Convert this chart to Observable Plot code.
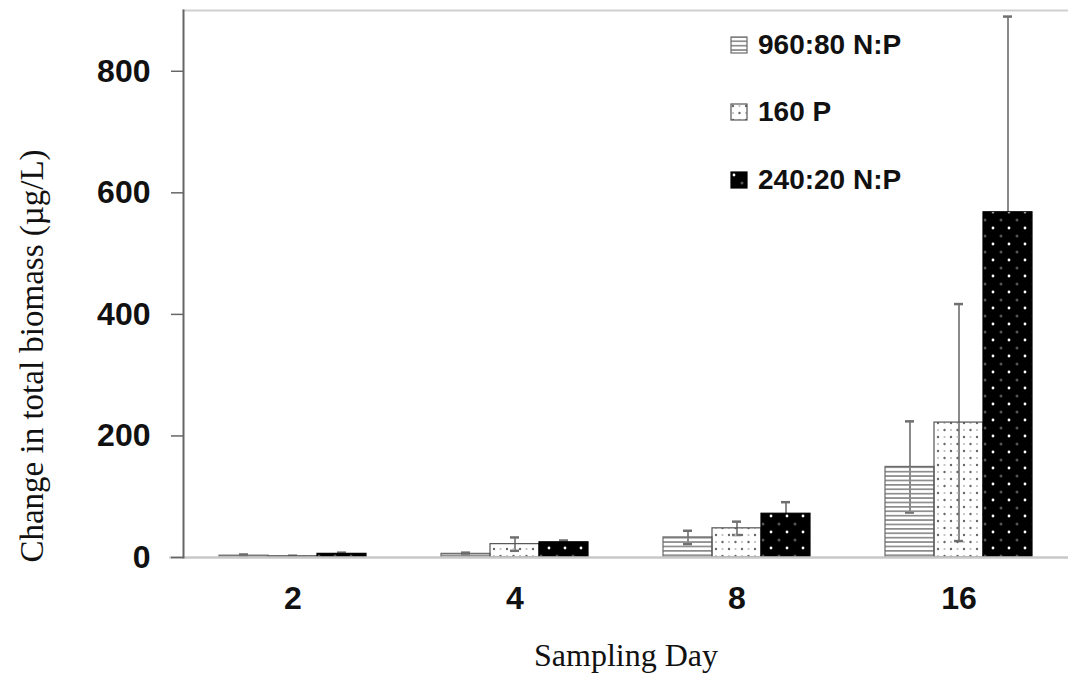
<!DOCTYPE html>
<html><head><meta charset="utf-8">
<script src="https://cdn.jsdelivr.net/npm/d3@7"></script>
<script src="https://cdn.jsdelivr.net/npm/@observablehq/plot@0.6"></script>
<style>
body{margin:0;background:#fff;}
#wrap{position:relative;width:1068px;height:685px;overflow:hidden;background:#fff;}
.legend{position:absolute;left:730px;top:0;font-family:"Liberation Sans",Arial,sans-serif;font-weight:bold;font-size:28px;color:#111;}
.legend .row{position:absolute;left:0;display:flex;align-items:center;white-space:nowrap;height:30px;}
.legend svg{margin-right:10px;}
</style></head>
<body><div id="wrap"></div>
<script>
// ---- data ----
const days = ["2", "4", "8", "16"];
const series = ["960:80 N:P", "160 P", "240:20 N:P"];
const mean960 = [3, 6, 33, 149];
const mean160 = [2, 22, 48, 222];
const mean240 = [6, 25, 72, 568];
const err960 = [2, 2, 11, 75];
const err160 = [1, 11, 11, 195];
const err240 = [2, 3, 19, 322];
const yTicks = [0, 200, 400, 600, 800];
const xLabel = "Sampling Day";
const yLabel = "Change in total biomass (\u00b5g/L)";

const meansBySeries = [mean960, mean160, mean240];
const errsBySeries = [err960, err160, err240];
const rows = [];
series.forEach((s, k) => days.forEach((d, i) => {
  const m = meansBySeries[k][i], e = errsBySeries[k][i];
  rows.push({series: s, day: d, value: m, lo: Math.max(0, m - e), hi: m + e});
}));

const fills = ["url(#pHatch)", "url(#pDots)", "url(#pBlack)"];
const strokes = ["#6a6a6a", "#555", "#000"];
const sans = "Liberation Sans, Arial, Helvetica, sans-serif";
const serif = "Liberation Serif, DejaVu Serif, serif";
const gap = -35; // space between the y axis and the first group of bars

const chart = Plot.plot({
  width: 1068,
  height: 685,
  marginLeft: 183,
  marginRight: 0,
  marginTop: 10,
  marginBottom: 128,
  style: {background: "#fff"},
  y: {domain: [0, 900]},
  x: {domain: series, padding: 0, axis: null},
  fx: {domain: days, paddingInner: 0.33, paddingOuter: 0.157},
  marks: [
    Plot.frame({anchor: "top", facet: "super", stroke: "#cfcfcf", strokeWidth: 2, insetLeft: gap, insetRight: gap}),
    Plot.ruleX(rows, {fx: "day", x: "series", y1: "lo", y2: "hi", stroke: "#8a8a8a", strokeWidth: 2}),
    Plot.tickY(rows, {fx: "day", x: "series", y: "hi", stroke: "#707070", strokeWidth: 2.5, insetLeft: 20, insetRight: 20}),
    Plot.tickY(rows.filter(r => r.lo > 0), {fx: "day", x: "series", y: "lo", stroke: "#707070", strokeWidth: 2.5, insetLeft: 20, insetRight: 20}),
    ...series.map((s, k) => Plot.barY(rows.filter(r => r.series === s), {
      fx: "day", x: "series", y: "value", fill: fills[k], stroke: strokes[k], strokeWidth: 1.2
    })),
    Plot.frame({anchor: "bottom", facet: "super", stroke: "#c8c8c8", strokeWidth: 2.5, insetLeft: gap - 13, insetRight: gap}),
    Plot.frame({anchor: "left", facet: "super", stroke: "#666", strokeWidth: 2, insetLeft: gap}),
    Plot.axisY({ticks: yTicks, tickSize: 12, tickPadding: 21, tickFormat: d => String(d), dx: gap,
      fontSize: 32, fontWeight: "bold", fontFamily: sans, label: null, stroke: "#666", strokeWidth: 1.5, color: "#111"}),
    Plot.axisFx({anchor: "bottom", tickSize: 0, tickPadding: 29, fontSize: 32, fontWeight: "bold",
      fontFamily: sans, label: null, color: "#111"}),
    Plot.text([xLabel], {facet: "super", frameAnchor: "bottom", dy: 108, fontSize: 32,
      fontFamily: serif, fill: "#111", text: d => d}),
    Plot.text([yLabel], {facet: "super", frameAnchor: "left", textAnchor: "middle", dx: -186, dy: 72, rotate: -90,
      fontSize: 33, fontFamily: serif, fill: "#111", text: d => d})
  ]
});

const defs = d3.select(chart).insert("defs", ":first-child");
defs.html(`
<pattern id="pHatch" patternUnits="userSpaceOnUse" width="8" height="4.4">
  <rect y="0" width="8" height="1.7" fill="#8c8c8c"/>
</pattern>
<pattern id="pDots" patternUnits="userSpaceOnUse" width="13" height="14">
  <circle cx="3" cy="3" r="1.2" fill="#666"/>
  <circle cx="9.5" cy="10" r="1.2" fill="#666"/>
  <circle cx="9.5" cy="3" r="1.1" fill="#bbb"/>
  <circle cx="3" cy="10" r="1.1" fill="#bbb"/>
</pattern>
<pattern id="pBlack" patternUnits="userSpaceOnUse" width="16" height="16">
  <rect width="16" height="16" fill="#000"/>
  <circle cx="4" cy="4" r="1.4" fill="#fff"/>
  <circle cx="12" cy="12" r="1.5" fill="#555"/>
</pattern>`);

const wrap = document.getElementById("wrap");
wrap.appendChild(chart);

const legend = document.createElement("div");
legend.className = "legend";
const rowTops = [30, 97, 165];
series.forEach((s, k) => {
  const row = document.createElement("div");
  row.className = "row";
  row.style.top = rowTops[k] + "px";
  row.innerHTML = `<svg width="18" height="18"><rect x="1" y="1" width="16" height="16" fill="${fills[k]}" stroke="${strokes[k]}" stroke-width="1.2"/></svg><span>${s}</span>`;
  legend.appendChild(row);
});
wrap.appendChild(legend);
</script>
</body></html>
